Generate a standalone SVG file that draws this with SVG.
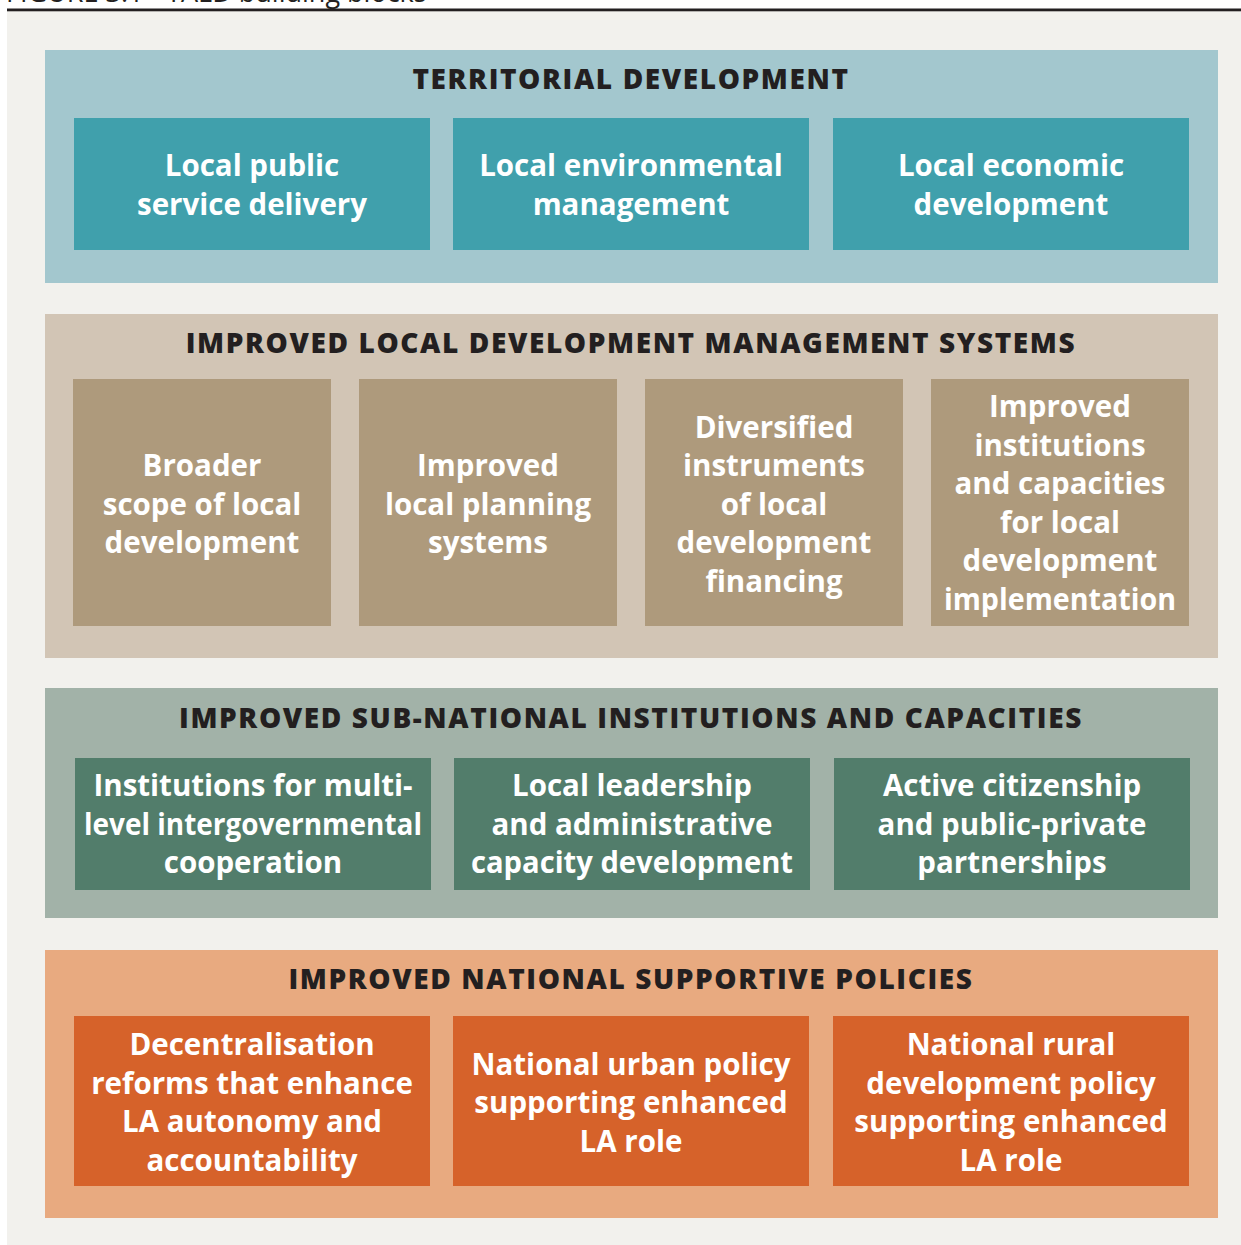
<svg xmlns="http://www.w3.org/2000/svg" width="1241" height="1245" viewBox="0 0 1241 1245">
<style>
.head{font-family:"Open Sans","Liberation Sans",sans-serif;font-weight:800;font-size:28px;letter-spacing:1.6px;fill:#231f20;text-anchor:middle}
.lbl{font-family:"Open Sans","Liberation Sans",sans-serif;font-weight:700;font-size:29.5px;fill:#ffffff;text-anchor:middle}
.cap{font-family:"Open Sans","Liberation Sans",sans-serif;font-size:27px;fill:#231f20}
.b1{fill:#a3c7ce}.n1{fill:#40a0ac}
.b2{fill:#d2c5b5}.n2{fill:#ae9a7c}
.b3{fill:#a2b2a8}.n3{fill:#527d6b}
.b4{fill:#e8aa80}.n4{fill:#d6622a}
</style>
<rect x="0" y="0" width="1241" height="1245" fill="#ffffff"/>
<text class="cap" x="6" y="2">FIGURE 3.1 - TALD building blocks</text>
<rect x="7" y="11" width="1234" height="1234" fill="#f2f1ed"/>
<rect x="7" y="8.5" width="1234" height="2.8" fill="#231f20"/>

<g id="band-territorial">
<rect class="b1" x="45" y="50" width="1173" height="233"/>
<text class="head" x="631" y="89">TERRITORIAL DEVELOPMENT</text>
</g>
<g id="node-local-public-service">
<rect class="n1" x="74" y="118" width="356" height="132"/>
<text class="lbl" x="252" y="176">Local public</text>
<text class="lbl" x="252" y="214.5">service delivery</text>
</g>
<g id="node-local-environmental">
<rect class="n1" x="453" y="118" width="356" height="132"/>
<text class="lbl" x="631" y="176">Local environmental</text>
<text class="lbl" x="631" y="214.5">management</text>
</g>
<g id="node-local-economic">
<rect class="n1" x="833" y="118" width="356" height="132"/>
<text class="lbl" x="1011" y="176">Local economic</text>
<text class="lbl" x="1011" y="214.5">development</text>
</g>

<g id="band-ldms">
<rect class="b2" x="45" y="314" width="1173" height="344"/>
<text class="head" x="631" y="353">IMPROVED LOCAL DEVELOPMENT MANAGEMENT SYSTEMS</text>
</g>
<g id="node-broader-scope">
<rect class="n2" x="73" y="379" width="258" height="247"/>
<text class="lbl" x="202" y="476">Broader</text>
<text class="lbl" x="202" y="514.5">scope of local</text>
<text class="lbl" x="202" y="553">development</text>
</g>
<g id="node-local-planning">
<rect class="n2" x="359" y="379" width="258" height="247"/>
<text class="lbl" x="488" y="476">Improved</text>
<text class="lbl" x="488" y="514.5">local planning</text>
<text class="lbl" x="488" y="553">systems</text>
</g>
<g id="node-financing">
<rect class="n2" x="645" y="379" width="258" height="247"/>
<text class="lbl" x="774" y="437.5">Diversified</text>
<text class="lbl" x="774" y="476">instruments</text>
<text class="lbl" x="774" y="514.5">of local</text>
<text class="lbl" x="774" y="553">development</text>
<text class="lbl" x="774" y="591.5">financing</text>
</g>
<g id="node-implementation">
<rect class="n2" x="931" y="379" width="258" height="247"/>
<text class="lbl" x="1060" y="417">Improved</text>
<text class="lbl" x="1060" y="455.5">institutions</text>
<text class="lbl" x="1060" y="494">and capacities</text>
<text class="lbl" x="1060" y="532.5">for local</text>
<text class="lbl" x="1060" y="571">development</text>
<text class="lbl" x="1060" y="609.5" textLength="232" lengthAdjust="spacingAndGlyphs">implementation</text>
</g>

<g id="band-subnational">
<rect class="b3" x="45" y="688" width="1173" height="230"/>
<text class="head" x="631" y="728">IMPROVED SUB-NATIONAL INSTITUTIONS AND CAPACITIES</text>
</g>
<g id="node-multilevel">
<rect class="n3" x="75" y="758" width="356" height="132"/>
<text class="lbl" x="253" y="796">Institutions for multi-</text>
<text class="lbl" x="253" y="834.5" textLength="338" lengthAdjust="spacingAndGlyphs">level intergovernmental</text>
<text class="lbl" x="253" y="873">cooperation</text>
</g>
<g id="node-leadership">
<rect class="n3" x="454" y="758" width="356" height="132"/>
<text class="lbl" x="632" y="796">Local leadership</text>
<text class="lbl" x="632" y="834.5">and administrative</text>
<text class="lbl" x="632" y="873" textLength="322" lengthAdjust="spacingAndGlyphs">capacity development</text>
</g>
<g id="node-citizenship">
<rect class="n3" x="834" y="758" width="356" height="132"/>
<text class="lbl" x="1012" y="796">Active citizenship</text>
<text class="lbl" x="1012" y="834.5">and public-private</text>
<text class="lbl" x="1012" y="873">partnerships</text>
</g>

<g id="band-national">
<rect class="b4" x="45" y="950" width="1173" height="268"/>
<text class="head" x="631" y="989">IMPROVED NATIONAL SUPPORTIVE POLICIES</text>
</g>
<g id="node-decentralisation">
<rect class="n4" x="74" y="1016" width="356" height="170"/>
<text class="lbl" x="252" y="1055">Decentralisation</text>
<text class="lbl" x="252" y="1093.5">reforms that enhance</text>
<text class="lbl" x="252" y="1132">LA autonomy and</text>
<text class="lbl" x="252" y="1170.5">accountability</text>
</g>
<g id="node-urban-policy">
<rect class="n4" x="453" y="1016" width="356" height="170"/>
<text class="lbl" x="631" y="1074.5">National urban policy</text>
<text class="lbl" x="631" y="1113">supporting enhanced</text>
<text class="lbl" x="631" y="1151.5">LA role</text>
</g>
<g id="node-rural-policy">
<rect class="n4" x="833" y="1016" width="356" height="170"/>
<text class="lbl" x="1011" y="1055">National rural</text>
<text class="lbl" x="1011" y="1093.5">development policy</text>
<text class="lbl" x="1011" y="1132">supporting enhanced</text>
<text class="lbl" x="1011" y="1170.5">LA role</text>
</g>
<g id="connectors"></g>
</svg>
